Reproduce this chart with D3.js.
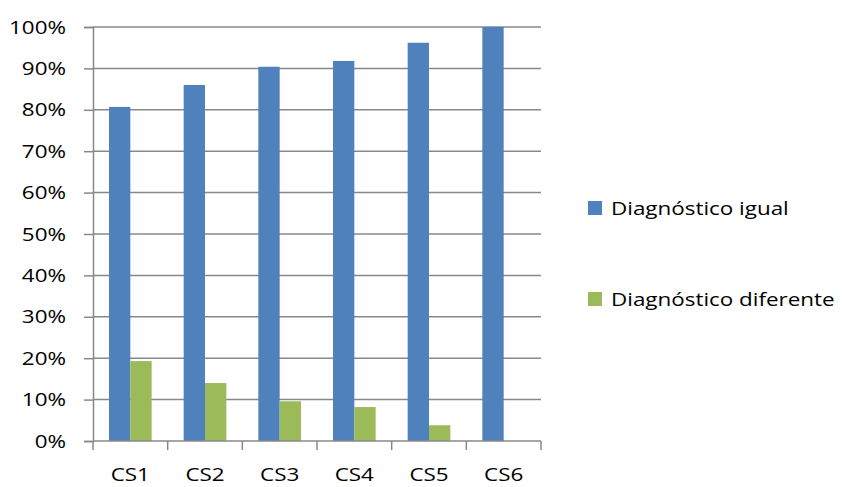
<!DOCTYPE html>
<html>
<head>
<meta charset="utf-8">
<script src="https://cdn.jsdelivr.net/npm/d3@7"></script>
<style>
  html, body { margin: 0; padding: 0; background: #fff; }
  svg { display: block; }
  text { font-family: "Open Sans", "Noto Sans", sans-serif; fill: #000; }
</style>
</head>
<body>
<svg id="chart" width="843" height="487"></svg>
<script>
// Categories, series and their values (share of cases, %)
const categories = ["CS1", "CS2", "CS3", "CS4", "CS5", "CS6"];
const seriesNames = ["Diagnóstico igual", "Diagnóstico diferente"];
const igual = [80.7, 86.0, 90.4, 91.8, 96.2, 100.0];
const diferente = [19.3, 14.0, 9.6, 8.2, 3.8, 0.0];
const yTicks = [0, 10, 20, 30, 40, 50, 60, 70, 80, 90, 100];
const colors = ["#4F81BD", "#9BBB59"];

const rows = categories.map((c, i) => ({ cat: c, values: [igual[i], diferente[i]] }));

const svg = d3.select("#chart");
const plotLeft = 93, plotRight = 541, plotTop = 27, plotBottom = 441;
const gridColor = "#888888";
const fontSize = 19;
const stretch = 1.18; // wide lettering

// place a text at (px, py) with horizontally widened glyphs
const place = (px, py) => `translate(${px},${py}) scale(${stretch},1)`;

const x = d3.scaleBand().domain(categories).range([plotLeft, plotRight]).paddingInner(0).paddingOuter(0);
const xs = d3.scaleBand().domain(d3.range(seriesNames.length)).range([0, x.bandwidth()])
  .paddingInner(0).paddingOuter(0.75);
const y = d3.scaleLinear().domain([0, 100]).range([plotBottom, plotTop]);

// horizontal gridlines
svg.append("g")
  .selectAll("line")
  .data(yTicks.filter(t => t > 0))
  .join("line")
  .attr("x1", plotLeft).attr("x2", plotRight)
  .attr("y1", d => y(d)).attr("y2", d => y(d))
  .attr("stroke", gridColor).attr("stroke-width", 1.5);

// bars
svg.append("g")
  .selectAll("g")
  .data(rows)
  .join("g")
  .attr("transform", d => `translate(${x(d.cat)},0)`)
  .selectAll("rect")
  .data(d => d.values.map((v, k) => ({ v, k })))
  .join("rect")
  .attr("x", d => xs(d.k))
  .attr("width", xs.bandwidth())
  .attr("y", d => y(d.v))
  .attr("height", d => plotBottom - y(d.v))
  .attr("fill", d => colors[d.k]);

// y axis
const yAxis = svg.append("g")
  .attr("transform", `translate(${plotLeft},0)`)
  .call(d3.axisLeft(y).tickValues(yTicks).tickFormat(d => d + "%").tickSize(9).tickPadding(18));
yAxis.select(".domain").attr("stroke", gridColor).attr("stroke-width", 1.5);
yAxis.selectAll(".tick line").attr("stroke", gridColor).attr("stroke-width", 1.5);
yAxis.selectAll(".tick text")
  .attr("x", 0)
  .attr("transform", place(-27, 0))
  .attr("font-family", "Open Sans")
  .attr("font-size", fontSize)
  .attr("fill", "#000");

// x axis with ticks at category boundaries
const xAxisG = svg.append("g").attr("transform", `translate(0,${plotBottom})`);
xAxisG.append("line").attr("x1", plotLeft).attr("x2", plotRight)
  .attr("stroke", gridColor).attr("stroke-width", 1.5);
xAxisG.selectAll("line.b")
  .data(categories.map(c => x(c)).concat([plotRight]))
  .join("line").attr("class", "b")
  .attr("x1", d => d).attr("x2", d => d)
  .attr("y1", 0).attr("y2", 9)
  .attr("stroke", gridColor).attr("stroke-width", 1.5);
xAxisG.selectAll("text")
  .data(categories)
  .join("text")
  .attr("transform", d => place(x(d) + x.bandwidth() / 2, 40))
  .attr("text-anchor", "middle")
  .attr("font-size", fontSize)
  .text(d => d);

// legend
const legend = svg.append("g");
const legendY = [208, 299];
seriesNames.forEach((name, k) => {
  legend.append("rect")
    .attr("x", 588).attr("y", legendY[k] - 7)
    .attr("width", 14).attr("height", 14)
    .attr("fill", colors[k]);
  legend.append("text")
    .attr("transform", place(611, legendY[k] + 7))
    .attr("font-size", fontSize)
    .text(name);
});
</script>
</body>
</html>
